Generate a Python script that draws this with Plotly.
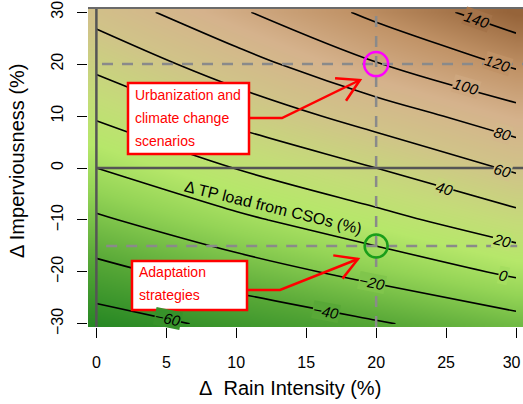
import numpy as np
import plotly.graph_objects as go

# ---------------- data ----------------
rain = [0, 10, 20, 30]                      # Δ Rain intensity (%)
imperv = [-30, -20, -10, 0, 10, 20, 30]     # Δ Imperviousness (%)
tp_load = [                                  # Δ TP load from CSOs (%), rows = imperv
    [-69.0, -55.5, -42.0, -27.5],
    [-46.0, -29.5, -13.5, 3.5],
    [-23.0, -4.0, 13.5, 33.0],
    [0.0, 20.5, 40.0, 63.0],
    [22.0, 46.0, 69.0, 92.0],
    [44.5, 71.5, 99.0, 123.0],
    [67.5, 97.0, 125.0, 151.5],
]
contour_levels = [-60, -40, -20, 0, 20, 40, 60, 80, 100, 120, 140]
x_ticks = [0, 5, 10, 15, 20, 25, 30]
y_ticks = [-30, -20, -10, 0, 10, 20, 30]
scenario_pt = (20, 20)
adaptation_pt = (20, -15)
# where the contour labels sit (level, rain, imperv)
label_pos = [(140, 27.2, 28.6), (120, 28.7, 20.2), (100, 26.4, 15.6), (80, 29.0, 6.7),
             (60, 29.0, -0.4), (40, 24.9, -3.9), (20, 29.0, -13.9), (0, 29.1, -20.6),
             (-20, 19.7, -22.1), (-40, 16.4, -27.7), (-60, 5.1, -28.9)]

# ---------------- style ----------------
cs_z = [-70, -40, -10, 10, 30, 60, 90, 120, 150]
cs_rgb = [(38, 135, 35), (88, 168, 55), (148, 212, 86), (182, 231, 106), (196, 220, 120),
          (208, 196, 136), (213, 178, 140), (192, 146, 102), (150, 100, 58)]
zmin, zmax = cs_z[0], cs_z[-1]
colorscale = [[(z - zmin) / (zmax - zmin), "rgb(%d,%d,%d)" % c] for z, c in zip(cs_z, cs_rgb)]

W, H = 523, 404
ML, MR, MT, MB = 88, 0, 8, 77
XR = [-0.6, 30.5]
YR = [-30.6, 30.8]
PW, PH = W - ML - MR, H - MT - MB
sx = PW / (XR[1] - XR[0])
sy = PH / (YR[1] - YR[0])
FONT = "Liberation Sans, Arial, sans-serif"


def P(px, py):
    """page pixel -> paper coords"""
    return (px - ML) / PW, (H - MB - py) / PH


def color_at(z):
    r = [np.interp(z, cs_z, [c[i] for c in cs_rgb]) for i in range(3)]
    return "rgb(%d,%d,%d)" % tuple(int(round(v)) for v in r)


Z = np.array(tp_load)
xa = np.array(rain, float)
ya = np.array(imperv, float)


def grad(x, y):
    i = int(np.clip(np.searchsorted(xa, x) - 1, 0, len(xa) - 2))
    j = int(np.clip(np.searchsorted(ya, y) - 1, 0, len(ya) - 2))
    tx = (x - xa[i]) / (xa[i + 1] - xa[i])
    ty = (y - ya[j]) / (ya[j + 1] - ya[j])
    z00, z10, z01, z11 = Z[j, i], Z[j, i + 1], Z[j + 1, i], Z[j + 1, i + 1]
    zx = ((z10 - z00) * (1 - ty) + (z11 - z01) * ty) / (xa[i + 1] - xa[i])
    zy = ((z01 - z00) * (1 - tx) + (z11 - z10) * tx) / (ya[j + 1] - ya[j])
    return zx, zy


fig = go.Figure()
fig.add_trace(go.Heatmap(x=rain, y=imperv, z=tp_load, zsmooth="best", colorscale=colorscale,
                         zmin=zmin, zmax=zmax, showscale=False, hoverinfo="skip"))
fig.add_trace(go.Contour(x=rain, y=imperv, z=tp_load, showscale=False, hoverinfo="skip",
                         contours=dict(start=contour_levels[0], end=contour_levels[-1],
                                       size=contour_levels[1] - contour_levels[0], coloring="none"),
                         line=dict(color="black", width=1.6)))

shapes = []
GRAY_D = "#555555"
GRAY_L = "#8a8a8a"
# solid reference lines
shapes.append(dict(type="line", xref="x", yref="paper", x0=0, x1=0, y0=0, y1=1,
                   line=dict(color=GRAY_D, width=2.5)))
shapes.append(dict(type="line", xref="x", yref="y", x0=0, x1=XR[1], y0=0, y1=0,
                   line=dict(color=GRAY_D, width=2.5)))
shapes.append(dict(type="line", xref="paper", yref="paper", x0=0, x1=1, y0=1, y1=1,
                   line=dict(color="#6a6a6a", width=2)))
# dashed scenario lines
shapes.append(dict(type="line", xref="x", yref="y", x0=0.4, x1=XR[1], y0=scenario_pt[1], y1=scenario_pt[1],
                   line=dict(color=GRAY_L, width=2.5, dash="11px,9px")))
shapes.append(dict(type="line", xref="x", yref="y", x0=0.7, x1=XR[1], y0=adaptation_pt[1], y1=adaptation_pt[1],
                   line=dict(color=GRAY_L, width=2.5, dash="11px,9px")))
shapes.append(dict(type="line", xref="x", yref="paper", x0=scenario_pt[0], x1=scenario_pt[0], y0=0, y1=1,
                   line=dict(color=GRAY_L, width=2.5, dash="11px,9px")))
# circles
for (cx, cy), col, r in [(scenario_pt, "#ff00ff", 12), (adaptation_pt, "#1a9e1a", 11.5)]:
    shapes.append(dict(type="circle", xref="x", yref="y", x0=cx - r / sx, x1=cx + r / sx,
                       y0=cy - r / sy, y1=cy + r / sy, line=dict(color=col, width=2.5)))

annotations = []


def arrow(points):
    pts = [P(*p) for p in points]
    d = "M " + " L ".join("%f,%f" % p for p in pts)
    shapes.append(dict(type="path", xref="paper", yref="paper", path=d,
                       line=dict(color="red", width=2.5)))
    (x1, y1), (x2, y2) = points[-2], points[-1]
    v = np.array([x1 - x2, y1 - y2], float)
    v /= np.hypot(*v)
    heads = []
    for a in (np.radians(30), -np.radians(30)):
        rv = np.array([v[0] * np.cos(a) - v[1] * np.sin(a), v[0] * np.sin(a) + v[1] * np.cos(a)])
        heads.append((x2 + 25 * rv[0], y2 + 25 * rv[1]))
    hp = [P(*heads[0]), P(x2, y2), P(*heads[1])]
    shapes.append(dict(type="path", xref="paper", yref="paper",
                       path="M " + " L ".join("%f,%f" % p for p in hp),
                       line=dict(color="red", width=2.5)))


def box(l, t, r, b, lines, tx, tys):
    x0, y0 = P(l, b)
    x1, y1 = P(r, t)
    shapes.append(dict(type="rect", xref="paper", yref="paper", x0=x0, x1=x1, y0=y0, y1=y1,
                       fillcolor="white", line=dict(color="red", width=2.5)))
    for s, ty in zip(lines, tys):
        ax, ay = P(tx, ty)
        annotations.append(dict(xref="paper", yref="paper", x=ax, y=ay, text=s, showarrow=False,
                                xanchor="left", yanchor="middle",
                                font=dict(family=FONT, size=14, color="red")))


arrow([(249, 118), (282, 118), (360, 80)])
arrow([(247, 290), (280, 290), (358, 259)])
box(128, 83, 249, 154, ["Urbanization and", "climate change", "scenarios"], 132.5, [95, 118, 141])
box(132, 261, 247, 310, ["Adaptation", "strategies"], 136.5, [272, 295])

# contour labels
for lev, lx, ly in label_pos:
    zx, zy = grad(lx, ly)
    ang = np.degrees(np.arctan2(zx * sy, zy * sx))
    txt = ("−%d" % -lev) if lev < 0 else str(lev)
    annotations.append(dict(x=lx, y=ly, xref="x", yref="y", text=txt, showarrow=False,
                            xanchor="center", yanchor="middle",
                            textangle=ang, bgcolor=color_at(lev), borderpad=0,
                            font=dict(family=FONT, size=15, color="black", style="italic")))

# text along the zero contour
tx_, ty_ = P(273, 208)
annotations.append(dict(x=tx_, y=ty_, xref="paper", yref="paper", xanchor="center", yanchor="middle",
                        text="Δ TP load from CSOs (%)", showarrow=False, textangle=13.7,
                        font=dict(family=FONT, size=16, color="black")))

# axis titles
ax_, ay_ = P(290, 388)
annotations.append(dict(xref="paper", yref="paper", x=ax_, y=ay_, text="Δ\u00a0 Rain Intensity (%)",
                        xanchor="center", yanchor="middle",
                        showarrow=False, font=dict(family=FONT, size=20, color="black")))
ax_, ay_ = P(17, 161)
annotations.append(dict(xref="paper", yref="paper", x=ax_, y=ay_, text="Δ Imperviousness (%)",
                        xanchor="center", yanchor="middle",
                        showarrow=False, textangle=-90, font=dict(family=FONT, size=20, color="black")))

x_ticktext = [str(v) for v in x_ticks]
x_ticktext[-1] = x_ticktext[-1] + "\u00a0\u00a0"   # keep the last label inside the page

fig.update_layout(
    width=W, height=H, margin=dict(l=ML, r=MR, t=MT, b=MB, pad=0, autoexpand=False),
    paper_bgcolor="white", plot_bgcolor="white", showlegend=False,
    shapes=shapes, annotations=annotations,
    xaxis=dict(range=XR, tickvals=x_ticks, ticktext=x_ticktext, ticks="outside", ticklen=10, tickwidth=1.3,
               tickcolor="black", showgrid=False, zeroline=False, showline=False, automargin=False,
               ticklabeloverflow="allow",
               tickfont=dict(family=FONT, size=16, color="black"), ticklabelstandoff=11),
    yaxis=dict(range=YR, tickvals=y_ticks, ticktext=[("−%d" % -v) if v < 0 else str(v) for v in y_ticks],
               ticks="outside", ticklen=10, tickwidth=1.3, tickangle=-90, automargin=False,
               ticklabeloverflow="allow",
               tickcolor="black", showgrid=False, zeroline=False, showline=False,
               tickfont=dict(family=FONT, size=16, color="black"), ticklabelstandoff=8),
)
fig.write_html("out.html", config={"displayModeBar": False},
               post_script="document.body.style.margin='0';document.body.style.overflow='hidden';")
